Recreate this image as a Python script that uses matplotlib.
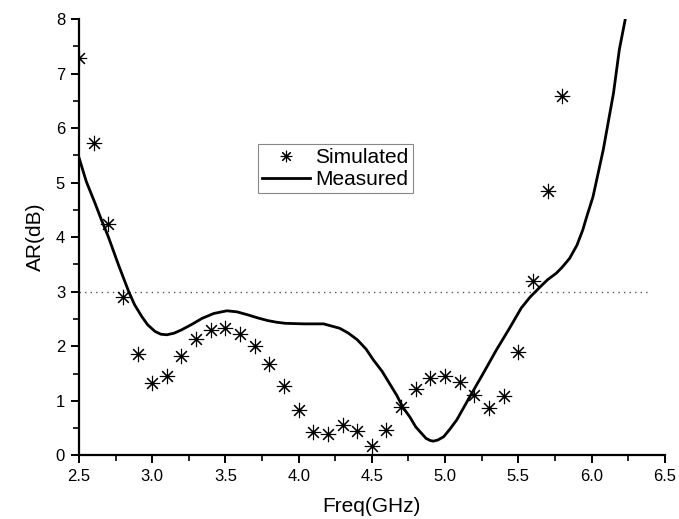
import matplotlib
matplotlib.use("Agg")
import matplotlib.pyplot as plt
from matplotlib.ticker import MultipleLocator, FormatStrFormatter

plt.rcParams['font.family'] = ['Liberation Sans', 'DejaVu Sans']

# Simulated axial ratio (dB), 0.1 GHz steps
sim_freq = [2.5, 2.6, 2.7, 2.8, 2.9, 3.0, 3.1, 3.2, 3.3, 3.4, 3.5, 3.6, 3.7,
            3.8, 3.9, 4.0, 4.1, 4.2, 4.3, 4.4, 4.5, 4.6, 4.7, 4.8, 4.9, 5.0,
            5.1, 5.2, 5.3, 5.4, 5.5, 5.6, 5.7, 5.8]
sim_ar = [7.29, 5.72, 4.24, 2.90, 1.85, 1.33, 1.46, 1.83, 2.13, 2.30, 2.33,
          2.23, 2.01, 1.68, 1.28, 0.83, 0.43, 0.40, 0.56, 0.45, 0.18, 0.46,
          0.89, 1.21, 1.41, 1.46, 1.34, 1.11, 0.86, 1.08, 1.90, 3.20, 4.84,
          6.58]

# Measured axial ratio (dB)
meas_freq = [2.50, 2.55, 2.61, 2.65, 2.70, 2.77, 2.84, 2.88, 2.93, 2.97, 3.02,
             3.06, 3.10, 3.15, 3.20, 3.27, 3.34, 3.42, 3.51, 3.58, 3.66, 3.72,
             3.79, 3.85, 3.91, 4.04, 4.17, 4.28, 4.34, 4.40, 4.46, 4.51, 4.57,
             4.62, 4.67, 4.71, 4.76, 4.80, 4.84, 4.87, 4.90, 4.92, 4.95, 4.99,
             5.03, 5.08, 5.17, 5.26, 5.35, 5.44, 5.52, 5.58, 5.65, 5.70, 5.76,
             5.80, 5.85, 5.90, 5.94, 5.97, 6.01, 6.08, 6.15, 6.19, 6.23, 6.25]
meas_ar = [5.46, 5.02, 4.62, 4.34, 4.01, 3.49, 3.00, 2.76, 2.54, 2.39, 2.27,
           2.22, 2.21, 2.24, 2.30, 2.40, 2.51, 2.60, 2.65, 2.63, 2.57, 2.52,
           2.47, 2.44, 2.42, 2.41, 2.41, 2.33, 2.24, 2.12, 1.95, 1.75, 1.54,
           1.32, 1.10, 0.89, 0.70, 0.52, 0.40, 0.31, 0.27, 0.26, 0.28, 0.34,
           0.47, 0.65, 1.08, 1.50, 1.93, 2.33, 2.70, 2.90, 3.09, 3.22, 3.34,
           3.45, 3.61, 3.85, 4.13, 4.40, 4.74, 5.60, 6.64, 7.44, 7.99, 8.40]

threshold = 3.0
threshold_span = [2.5, 6.4]

fig = plt.figure(figsize=(6.79, 5.19), dpi=100)
ax = fig.add_axes([0.1163, 0.1227, 0.8627, 0.8407])

ax.plot(threshold_span, [threshold, threshold], linestyle=(0, (1, 3)),
        color='#555555', linewidth=1.0, zorder=1)
ax.plot(sim_freq, sim_ar, linestyle='none', marker=(8, 2, 0), markersize=11,
        markeredgewidth=0.8, color='black', label='Simulated', zorder=3)
ax.plot(meas_freq, meas_ar, color='black', linewidth=2.0, label='Measured',
        zorder=2)

ax.set_xlim(2.5, 6.5)
ax.set_ylim(0, 8)
ax.xaxis.set_major_locator(MultipleLocator(0.5))
ax.xaxis.set_minor_locator(MultipleLocator(0.25))
ax.yaxis.set_major_locator(MultipleLocator(1))
ax.yaxis.set_minor_locator(MultipleLocator(0.5))
ax.xaxis.set_major_formatter(FormatStrFormatter('%.1f'))

for side in ('top', 'right'):
    ax.spines[side].set_visible(False)
for side in ('left', 'bottom'):
    ax.spines[side].set_linewidth(1.6)

ax.tick_params(which='major', direction='out', length=6, width=1.4,
               labelsize=12, pad=4)
ax.tick_params(which='minor', direction='out', length=4, width=1.2)

ax.set_xlabel('Freq(GHz)', fontsize=15, labelpad=9)
ax.set_ylabel('AR(dB)', fontsize=15, labelpad=8)

leg = ax.legend(loc='upper left', bbox_to_anchor=(258 / 679, 1 - 144 / 519),
                bbox_transform=fig.transFigure, fontsize=15, frameon=True,
                fancybox=False, edgecolor='#888888', framealpha=1,
                handlelength=2.3, handletextpad=0.25, borderpad=0.2,
                labelspacing=0.15, borderaxespad=0, markerscale=0.75)
leg.get_frame().set_linewidth(0.8)

fig.savefig('out.png', dpi=100)
